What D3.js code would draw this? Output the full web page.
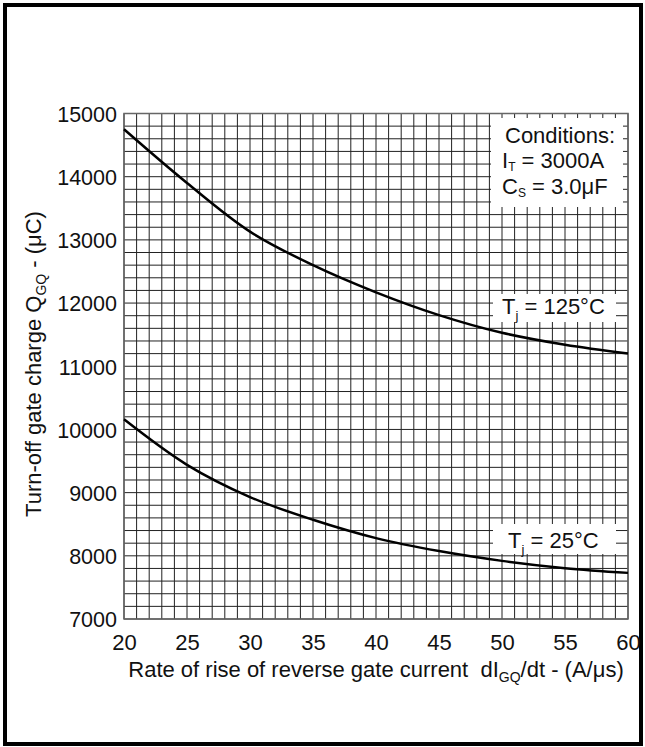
<!DOCTYPE html>
<html>
<head>
<meta charset="utf-8">
<script src="https://cdn.jsdelivr.net/npm/d3@7"></script>
<style>
  html, body { margin: 0; padding: 0; background: #fff; }
  svg { display: block; }
  text { font-family: Arial, "Liberation Sans", sans-serif; fill: #111; }
</style>
</head>
<body>
<svg id="chart" width="645" height="747"></svg>
<script>
// ---- data ----
const rate = [20, 25, 30, 35, 40, 45, 50, 55, 60];
const charge125 = [14750, 13900, 13130, 12600, 12170, 11810, 11530, 11340, 11200];
const charge25 = [10160, 9440, 8930, 8570, 8280, 8075, 7920, 7805, 7730];
const xTicks = [20, 25, 30, 35, 40, 45, 50, 55, 60];
const yTicks = [7000, 8000, 9000, 10000, 11000, 12000, 13000, 14000, 15000];
const seriesLabels = ["125°C", "25°C"];
const conditions = ["Conditions:", "3000A", "3.0μF"];

const FONT = "Arial, 'Liberation Sans', sans-serif";
const svg = d3.select("#chart");

// outer frame
svg.append("rect").attr("x", 5).attr("y", 5).attr("width", 636).attr("height", 739)
  .attr("fill", "none").attr("stroke", "#000").attr("stroke-width", 4);

const L = 124, R = 628, T = 113.5, B = 619;
const x = d3.scaleLinear().domain([20, 60]).range([L, R]);
const y = d3.scaleLinear().domain([7000, 15000]).range([B, T]);

// grid
const g = svg.append("g");
const xs = d3.range(20, 60.001, 1);
const ys = d3.range(7000, 15000.001, 200);
g.selectAll("line.v").data(xs).join("line")
  .attr("x1", d => x(d)).attr("x2", d => x(d)).attr("y1", T).attr("y2", B)
  .attr("stroke", "#222").attr("stroke-width", 1);
g.selectAll("line.h").data(ys).join("line")
  .attr("y1", d => y(d)).attr("y2", d => y(d)).attr("x1", L).attr("x2", R)
  .attr("stroke", "#222").attr("stroke-width", 1);
svg.append("rect").attr("x", L).attr("y", T).attr("width", R - L).attr("height", B - T)
  .attr("fill", "none").attr("stroke", "#666").attr("stroke-width", 1.5);

// axes (labels only)
const xAxis = d3.axisBottom(x).tickValues(xTicks).tickSize(0).tickPadding(0).tickFormat(d3.format("d"));
const xg = svg.append("g").attr("transform", `translate(0,${B})`).call(xAxis);
xg.select(".domain").remove();
xg.selectAll("text").attr("dy", null).attr("y", 31).style("font-size", "22px")
  .style("font-family", FONT).attr("fill", "#111");

const yAxis = d3.axisLeft(y).tickValues(yTicks).tickSize(0).tickPadding(7).tickFormat(d3.format("d"));
const yg = svg.append("g").attr("transform", `translate(${L},0)`).call(yAxis);
yg.select(".domain").remove();
yg.selectAll("text").attr("dy", "0.36em").style("font-size", "21.5px")
  .style("font-family", FONT).attr("fill", "#111");

// axis titles
const xt = svg.append("text").attr("x", (L + R) / 2).attr("y", 677)
  .attr("text-anchor", "middle").style("font-size", "22px").style("white-space", "pre");
xt.append("tspan").text("Rate of rise of reverse gate current  dI");
xt.append("tspan").text("GQ").style("font-size", "14px").attr("dy", 5);
xt.append("tspan").text("/dt - (A/μs)").attr("dy", -5);

const yt = svg.append("text").attr("transform", `translate(41,364) rotate(-90)`)
  .attr("text-anchor", "middle").style("font-size", "22px");
yt.append("tspan").text("Turn-off gate charge Q");
yt.append("tspan").text("GQ").style("font-size", "14px").attr("dy", 5);
yt.append("tspan").text(" - (μC)").attr("dy", -5);

// curves
const line = d3.line().x((d, i) => x(rate[i])).y(d => y(d)).curve(d3.curveCatmullRom.alpha(0.5));
[charge125, charge25].forEach(s => {
  svg.append("path").attr("d", line(s)).attr("fill", "none")
    .attr("stroke", "#000").attr("stroke-width", 2.5);
});

// conditions box
svg.append("rect").attr("x", 491).attr("y", 118).attr("width", 132).attr("height", 89).attr("fill", "#fff");
svg.append("text").attr("x", 505).attr("y", 143).style("font-size", "22px").text(conditions[0]);
const it = svg.append("text").attr("x", 502).attr("y", 168).style("font-size", "22px");
it.append("tspan").text("I");
it.append("tspan").text("T").style("font-size", "12px").attr("dy", 3);
it.append("tspan").text(" = " + conditions[1]).attr("dy", -3);
const ct = svg.append("text").attr("x", 502).attr("y", 194).style("font-size", "22px");
ct.append("tspan").text("C");
ct.append("tspan").text("S").style("font-size", "12px").attr("dy", 3);
ct.append("tspan").text(" = " + conditions[2]).attr("dy", -3);

// series labels
function tjLabel(bx, by, bw, bh, tx, ty, val) {
  svg.append("rect").attr("x", bx).attr("y", by).attr("width", bw).attr("height", bh).attr("fill", "#fff");
  const t = svg.append("text").attr("x", tx).attr("y", ty).style("font-size", "22px");
  t.append("tspan").text("T");
  t.append("tspan").text("j").style("font-size", "13px").attr("dy", 6);
  t.append("tspan").text(" = " + val).attr("dy", -6);
}
tjLabel(493, 294, 123, 28, 502, 314, seriesLabels[0]);
tjLabel(493, 524, 123, 30, 508, 548, seriesLabels[1]);
</script>
</body>
</html>
